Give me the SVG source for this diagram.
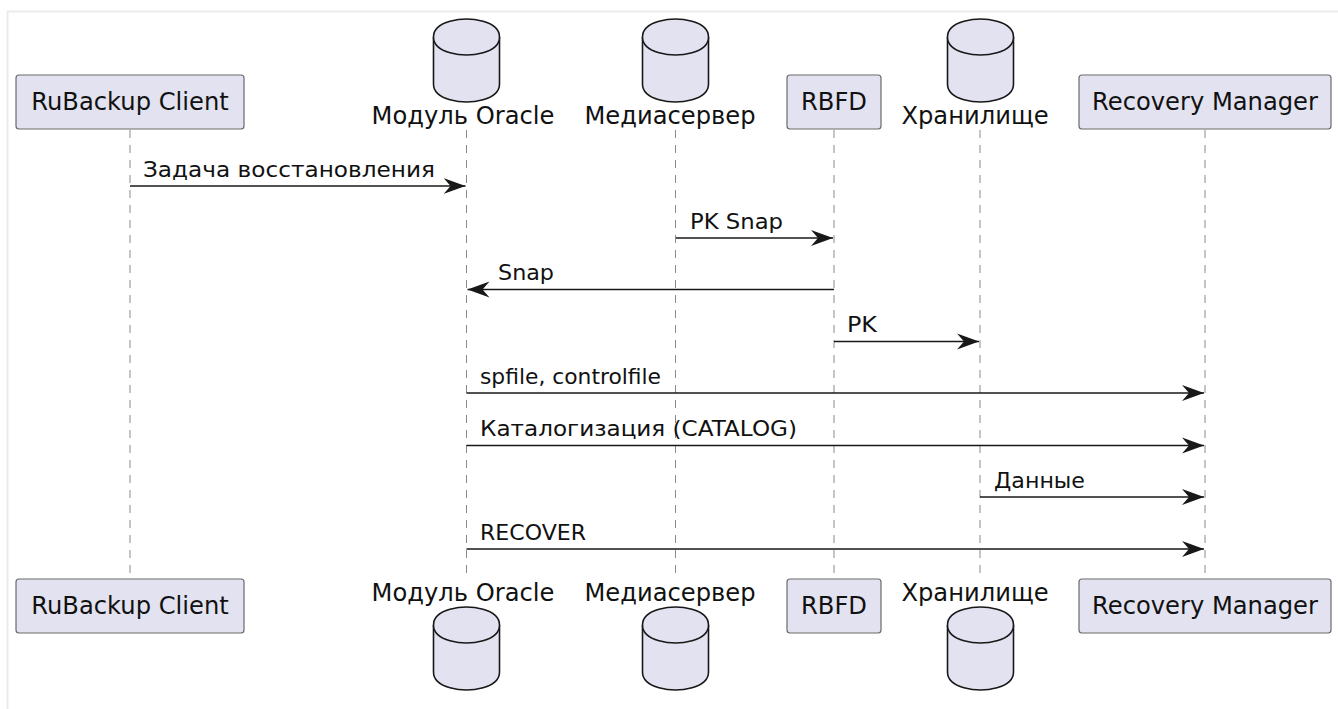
<svg xmlns="http://www.w3.org/2000/svg" width="1338" height="709" viewBox="0 0 1338 709">
<style>
  .box{fill:#E2E2F0;stroke:#6a6a6a;stroke-width:1.2}
  .db{fill:#E2E2F0;stroke:#181818;stroke-width:1.6}
  .ptxt{font-family:"DejaVu Sans",sans-serif;font-size:24.2px;fill:#111;text-anchor:middle}
  .mtxt{font-family:"DejaVu Sans",sans-serif;font-size:22px;fill:#111}
  .life{stroke:#8a8a8a;stroke-width:1;stroke-dasharray:8,7;fill:none}
  .msg{stroke:#181818;stroke-width:1.6;fill:none}
  .frame{stroke:#ebebeb;stroke-width:2;fill:#fff}
</style>
<defs>
  <g id="cyl">
    <path class="db" d="M-33,18 C-33,0 0,0 0,0 C0,0 33,0 33,18 L33,65 C33,83 0,83 0,83 C0,83 -33,83 -33,65 Z"/>
    <path class="db" fill="none" d="M-33,18 C-33,36 0,36 0,36 C0,36 33,36 33,18"/>
  </g>
  <marker id="ah" markerUnits="userSpaceOnUse" markerWidth="24" markerHeight="20" refX="22" refY="9" orient="auto">
    <polygon points="0,1 22,9 0,17 7,9" fill="#181818"/>
  </marker>
</defs>
<rect width="1338" height="709" fill="#fff"/>
<path class="frame" d="M7.5,720 L7.5,11.5 L1350,11.5"/>

<g id="lifelines">
  <line class="life" x1="130" y1="130" x2="130" y2="579"/>
  <line class="life" x1="466.5" y1="130" x2="466.5" y2="580"/>
  <line class="life" x1="675.5" y1="130" x2="675.5" y2="580"/>
  <line class="life" x1="834" y1="130" x2="834" y2="579"/>
  <line class="life" x1="980" y1="130" x2="980" y2="580"/>
  <line class="life" x1="1205" y1="130" x2="1205" y2="579"/>
</g>

<g id="node-rubackup-client">
  <rect class="box" x="16" y="75" width="228" height="54" rx="3"/>
  <text class="ptxt" x="130" y="110">RuBackup Client</text>
  <rect class="box" x="16" y="579" width="228" height="54" rx="3"/>
  <text class="ptxt" x="130" y="614">RuBackup Client</text>
</g>
<g id="node-oracle">
  <use href="#cyl" transform="translate(466.5,19)"/>
  <text class="ptxt" x="463" y="124">Модуль Oracle</text>
  <text class="ptxt" x="463" y="601">Модуль Oracle</text>
  <use href="#cyl" transform="translate(466.5,607)"/>
</g>
<g id="node-mediaserver">
  <use href="#cyl" transform="translate(675.5,19)"/>
  <text class="ptxt" x="670" y="124">Медиасервер</text>
  <text class="ptxt" x="670" y="601">Медиасервер</text>
  <use href="#cyl" transform="translate(675.5,607)"/>
</g>
<g id="node-rbfd">
  <rect class="box" x="787" y="75" width="94" height="54" rx="3"/>
  <text class="ptxt" x="834" y="110">RBFD</text>
  <rect class="box" x="787" y="579" width="94" height="54" rx="3"/>
  <text class="ptxt" x="834" y="614">RBFD</text>
</g>
<g id="node-storage">
  <use href="#cyl" transform="translate(980.5,19)"/>
  <text class="ptxt" x="975" y="124">Хранилище</text>
  <text class="ptxt" x="975" y="601">Хранилище</text>
  <use href="#cyl" transform="translate(980.5,607)"/>
</g>
<g id="node-recovery-manager">
  <rect class="box" x="1079" y="75" width="252" height="54" rx="3"/>
  <text class="ptxt" x="1205" y="110">Recovery Manager</text>
  <rect class="box" x="1079" y="579" width="252" height="54" rx="3"/>
  <text class="ptxt" x="1205" y="614">Recovery Manager</text>
</g>

<g id="connectors">
  <line class="msg" x1="130" y1="186" x2="465.5" y2="186" marker-end="url(#ah)"/>
  <text class="mtxt" x="143" y="176.5" textLength="292" lengthAdjust="spacingAndGlyphs">Задача восстановления</text>
  <line class="msg" x1="676" y1="238" x2="833" y2="238" marker-end="url(#ah)"/>
  <text class="mtxt" x="690" y="228.5" textLength="93" lengthAdjust="spacingAndGlyphs">PK Snap</text>
  <line class="msg" x1="834" y1="289.5" x2="467.5" y2="289.5" marker-end="url(#ah)"/>
  <text class="mtxt" x="498" y="280" textLength="56" lengthAdjust="spacingAndGlyphs">Snap</text>
  <line class="msg" x1="834" y1="341.5" x2="979" y2="341.5" marker-end="url(#ah)"/>
  <text class="mtxt" x="847" y="332" textLength="30" lengthAdjust="spacingAndGlyphs">PK</text>
  <line class="msg" x1="466.5" y1="393" x2="1204" y2="393" marker-end="url(#ah)"/>
  <text class="mtxt" x="480" y="383.5" textLength="181" lengthAdjust="spacingAndGlyphs">spfile, controlfile</text>
  <line class="msg" x1="466.5" y1="445.5" x2="1204" y2="445.5" marker-end="url(#ah)"/>
  <text class="mtxt" x="480" y="436" textLength="317" lengthAdjust="spacingAndGlyphs">Каталогизация (CATALOG)</text>
  <line class="msg" x1="980" y1="497" x2="1204" y2="497" marker-end="url(#ah)"/>
  <text class="mtxt" x="994" y="487.5" textLength="91" lengthAdjust="spacingAndGlyphs">Данные</text>
  <line class="msg" x1="466.5" y1="549" x2="1204" y2="549" marker-end="url(#ah)"/>
  <text class="mtxt" x="480" y="539.5" textLength="106" lengthAdjust="spacingAndGlyphs">RECOVER</text>
</g>
</svg>
